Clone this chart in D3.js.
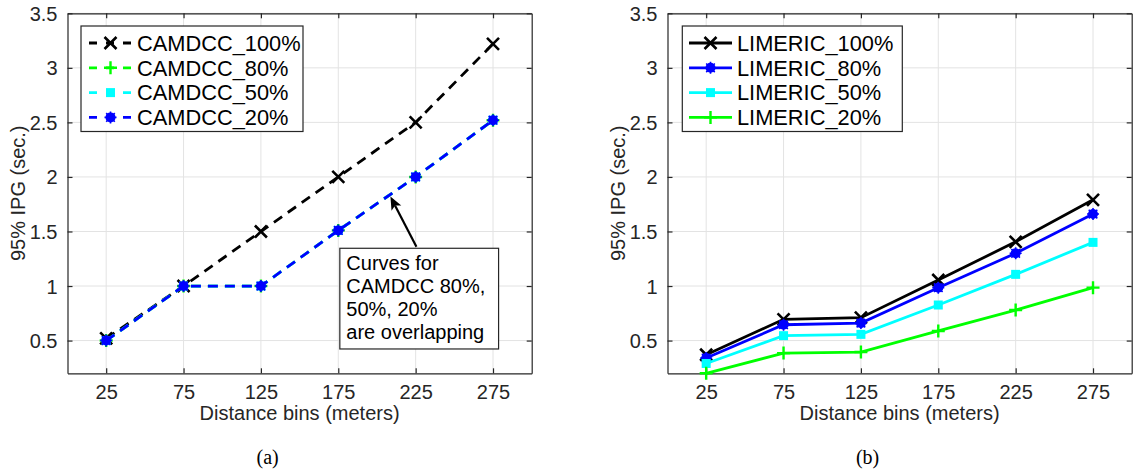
<!DOCTYPE html>
<html>
<head>
<meta charset="utf-8">
<script src="https://cdn.jsdelivr.net/npm/d3@7"></script>
<style>
  body { margin: 0; background: #fff; }
  svg { display: block; }
</style>
</head>
<body>
<div id="chart"></div>
<script>
// Values
var distance = [25, 75, 125, 175, 225, 275];
var xTicks = [25, 75, 125, 175, 225, 275];
var yTicks = [0.5, 1, 1.5, 2, 2.5, 3, 3.5];

var camdccNames = ['CAMDCC_100%', 'CAMDCC_80%', 'CAMDCC_50%', 'CAMDCC_20%'];
var camdcc100 = [0.52, 1.0, 1.5, 2.0, 2.5, 3.22];
var camdcc80 = [0.5, 1.0, 1.0, 1.51, 2.0, 2.52];
var camdcc50 = [0.5, 1.0, 1.0, 1.51, 2.0, 2.52];
var camdcc20 = [0.5, 1.0, 1.0, 1.51, 2.0, 2.52];

var limericNames = ['LIMERIC_100%', 'LIMERIC_80%', 'LIMERIC_50%', 'LIMERIC_20%'];
var limeric100 = [0.37, 0.695, 0.71, 1.055, 1.405, 1.79];
var limeric80 = [0.34, 0.645, 0.66, 0.985, 1.30, 1.66];
var limeric50 = [0.29, 0.545, 0.557, 0.826, 1.107, 1.40];
var limeric20 = [0.20, 0.385, 0.395, 0.588, 0.78, 0.985];

var noteLines = ['Curves for', 'CAMDCC 80%,', '50%, 20%', 'are overlapping'];

var W = 1133, H = 470;
var fontSans = 'Arial, "Liberation Sans", Helvetica, sans-serif';
var axisColor = '#262626';

var svg = d3.select('#chart').append('svg')
    .attr('xmlns', 'http://www.w3.org/2000/svg')
    .attr('width', W)
    .attr('height', H);

function drawMarker(g, type, color) {
    if (type === 'x') {
        g.append('path').attr('d', 'M-6,-6L6,6M-6,6L6,-6')
            .attr('stroke', color).attr('stroke-width', 2.6).attr('fill', 'none');
    } else if (type === 'plus') {
        g.append('path').attr('d', 'M-6.5,0H6.5M0,-6.5V6.5')
            .attr('stroke', color).attr('stroke-width', 2.4).attr('fill', 'none');
    } else if (type === 'square') {
        g.append('rect').attr('x', -4.5).attr('y', -4.5).attr('width', 9).attr('height', 9)
            .attr('fill', color);
    } else if (type === 'star') {
        g.append('circle').attr('r', 5).attr('fill', color);
        g.append('path').attr('d', 'M-6,0H6M0,-6V6M-4.3,-4.3L4.3,4.3M-4.3,4.3L4.3,-4.3')
            .attr('stroke', color).attr('stroke-width', 1.6);
    }
}

function panel(p) {
    var left = p.left, right = p.right, top = 13.3, bottom = 373.3;
    var x = d3.scaleLinear().domain([0, 300]).range([left, right]);
    var y = d3.scaleLinear().domain([0.2, 3.5]).range([bottom, top]);
    var g = svg.append('g');

    // grid
    g.append('g').selectAll('line.gx').data(xTicks).enter().append('line')
        .attr('x1', function(d) { return x(d); }).attr('x2', function(d) { return x(d); })
        .attr('y1', top).attr('y2', bottom)
        .attr('stroke', '#e3e3e3').attr('stroke-width', 1);
    g.append('g').selectAll('line.gy').data(yTicks).enter().append('line')
        .attr('y1', function(d) { return y(d); }).attr('y2', function(d) { return y(d); })
        .attr('x1', left).attr('x2', right)
        .attr('stroke', '#e3e3e3').attr('stroke-width', 1);

    // axes on all four sides, ticks pointing inward
    var ax = function(axis, tx, ty) {
        var a = g.append('g').attr('transform', 'translate(' + tx + ',' + ty + ')').call(axis);
        a.select('.domain').attr('stroke', axisColor).attr('stroke-width', 1.2);
        a.selectAll('.tick line').attr('stroke', axisColor).attr('stroke-width', 1.2);
        return a;
    };
    var fmt = function(d) { return String(d); };
    var bottomAx = ax(d3.axisBottom(x).tickValues(xTicks).tickFormat(fmt).tickSizeInner(-5).tickSizeOuter(0), 0, bottom);
    ax(d3.axisTop(x).tickValues(xTicks).tickSizeInner(-5).tickSizeOuter(0).tickFormat(''), 0, top);
    var leftAx = ax(d3.axisLeft(y).tickValues(yTicks).tickFormat(fmt).tickSizeInner(-5).tickSizeOuter(0).tickPadding(10), left, 0);
    ax(d3.axisRight(y).tickValues(yTicks).tickSizeInner(-5).tickSizeOuter(0).tickFormat(''), right, 0);

    bottomAx.selectAll('.tick text')
        .attr('fill', axisColor).style('font-family', fontSans).style('font-size', '20px')
        .attr('y', 0).attr('dy', 0).attr('transform', 'translate(0,25.5)');
    leftAx.selectAll('.tick text')
        .attr('fill', axisColor).style('font-family', fontSans).style('font-size', '20px')
        .attr('dy', '0.35em');

    // axis titles
    g.append('text')
        .attr('x', (left + right) / 2).attr('y', 420)
        .attr('text-anchor', 'middle')
        .attr('fill', axisColor).style('font-family', fontSans).style('font-size', '20px')
        .text('Distance bins (meters)');
    g.append('text')
        .attr('transform', 'translate(' + (left - 43) + ',' + ((top + bottom) / 2) + ') rotate(-90)')
        .attr('text-anchor', 'middle')
        .attr('fill', axisColor).style('font-family', fontSans).style('font-size', '20px')
        .text('95% IPG (sec.)');
    g.append('text')
        .attr('x', (left + right) / 2 - 32).attr('y', 464)
        .attr('text-anchor', 'middle')
        .attr('fill', '#000').style('font-family', '"Liberation Serif", "Times New Roman", serif').style('font-size', '20px')
        .text(p.caption);

    // series
    var line = d3.line()
        .x(function(d, i) { return x(distance[i]); })
        .y(function(d) { return y(d); });

    p.series.forEach(function(s) {
        g.append('path').datum(s.values)
            .attr('d', line)
            .attr('fill', 'none')
            .attr('stroke', s.color)
            .attr('stroke-width', 2.8)
            .attr('stroke-dasharray', p.dashed ? '10,7' : null);
        g.append('g').selectAll('g').data(s.values).enter().append('g')
            .attr('transform', function(d, i) { return 'translate(' + x(distance[i]) + ',' + y(d) + ')'; })
            .each(function() { drawMarker(d3.select(this), s.marker, s.color); });
    });

    // legend
    var lg = g.append('g').attr('transform', 'translate(' + (left + p.legend.dx) + ',26)');
    lg.append('rect')
        .attr('x', 0).attr('y', 0).attr('width', p.legend.w).attr('height', 105.5)
        .attr('fill', '#fff').attr('stroke', axisColor).attr('stroke-width', 1.2);
    p.series.forEach(function(s, i) {
        var cy = 17 + i * 24.8;
        lg.append('line')
            .attr('x1', p.legend.sx).attr('x2', p.legend.sx + 43)
            .attr('y1', cy).attr('y2', cy)
            .attr('stroke', s.color).attr('stroke-width', 2.8)
            .attr('stroke-dasharray', p.dashed ? '8,9' : null);
        drawMarker(lg.append('g').attr('transform', 'translate(' + (p.legend.sx + 21.5) + ',' + cy + ')'), s.marker, s.color);
        lg.append('text')
            .attr('x', p.legend.sx + 48).attr('y', cy + 7.8)
            .attr('fill', '#000').style('font-family', fontSans).style('font-size', '21.8px')
            .text(s.name);
    });

    return {x: x, y: y, g: g};
}

var a = panel({
    left: 67.5, right: 531.7, caption: '(a)', dashed: true,
    legend: {dx: 13.5, w: 222, sx: 8},
    series: [
        {name: camdccNames[0], values: camdcc100, color: '#000000', marker: 'x'},
        {name: camdccNames[1], values: camdcc80, color: '#00ff00', marker: 'plus'},
        {name: camdccNames[2], values: camdcc50, color: '#00ffff', marker: 'square'},
        {name: camdccNames[3], values: camdcc20, color: '#0000ff', marker: 'star'}
    ]
});

panel({
    left: 667.5, right: 1131.7, caption: '(b)', dashed: false,
    legend: {dx: 14.8, w: 220, sx: 6.7},
    series: [
        {name: limericNames[0], values: limeric100, color: '#000000', marker: 'x'},
        {name: limericNames[1], values: limeric80, color: '#0000ff', marker: 'star'},
        {name: limericNames[2], values: limeric50, color: '#00ffff', marker: 'square'},
        {name: limericNames[3], values: limeric20, color: '#00ff00', marker: 'plus'}
    ]
});

// text-box annotation with arrow in panel (a)
var ann = a.g.append('g');
var bx0 = a.x(176), bx1 = a.x(278.6), by0 = a.y(1.346), by1 = a.y(0.423);
ann.append('rect')
    .attr('x', bx0).attr('y', by0).attr('width', bx1 - bx0).attr('height', by1 - by0)
    .attr('fill', '#fff').attr('stroke', axisColor).attr('stroke-width', 1.2);
noteLines.forEach(function(t, i) {
    ann.append('text')
        .attr('x', bx0 + 6.5).attr('y', by0 + 22.2 + i * 22.8)
        .attr('fill', '#000').style('font-family', fontSans).style('font-size', '20px')
        .text(t);
});
var tx = a.x(225.5), ty = a.y(1.36), hx = a.x(208.7), hy = a.y(1.82);
var ang = Math.atan2(hy - ty, hx - tx);
var hl = 13, hw = 5.5;
var bxh = hx - hl * Math.cos(ang), byh = hy - hl * Math.sin(ang);
ann.append('line')
    .attr('x1', tx).attr('y1', ty).attr('x2', bxh + 3 * Math.cos(ang)).attr('y2', byh + 3 * Math.sin(ang))
    .attr('stroke', '#000').attr('stroke-width', 2.2);
ann.append('path')
    .attr('d', 'M' + hx + ',' + hy +
        'L' + (bxh - hw * Math.sin(ang)) + ',' + (byh + hw * Math.cos(ang)) +
        'L' + (bxh + 3 * Math.cos(ang)) + ',' + (byh + 3 * Math.sin(ang)) +
        'L' + (bxh + hw * Math.sin(ang)) + ',' + (byh - hw * Math.cos(ang)) + 'Z')
    .attr('fill', '#000');
</script>
</body>
</html>
